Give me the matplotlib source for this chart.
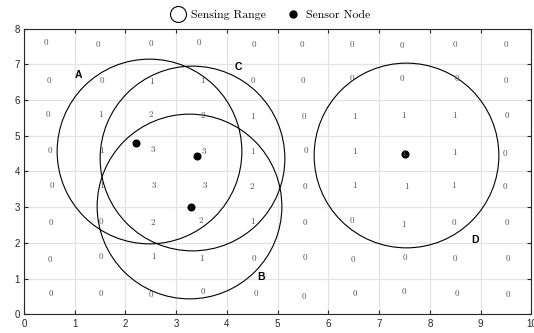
import matplotlib
matplotlib.use("Agg")
import matplotlib.pyplot as plt
from matplotlib.lines import Line2D

# sensing ranges (circle centres) and labels
circle_x = [2.46, 3.25, 3.32, 7.52]
circle_y = [4.56, 3.04, 4.37, 4.47]
circle_names = ["A", "B", "C", "D"]
name_x = [1.07, 4.67, 4.23, 8.88]
name_y = [6.71, 1.04, 6.92, 2.09]

# sensor nodes
node_x = [2.2, 3.4, 3.3, 7.5]
node_y = [4.8, 4.43, 3.0, 4.5]

# coverage count per cell, rows from top (y=7.5) to bottom (y=0.5)
counts = [
    [0, 0, 0, 0, 0, 0, 0, 0, 0, 0],
    [0, 0, 1, 1, 0, 0, 0, 0, 0, 0],
    [0, 1, 2, 2, 1, 0, 1, 1, 1, 0],
    [0, 1, 3, 3, 1, 0, 1, 1, 1, 0],
    [0, 1, 3, 3, 2, 0, 1, 1, 1, 0],
    [0, 0, 2, 2, 1, 0, 0, 1, 0, 0],
    [0, 0, 1, 1, 0, 0, 0, 0, 0, 0],
    [0, 0, 0, 0, 0, 0, 0, 0, 0, 0],
]
# label positions (slightly jittered around cell centres)
count_x = [
    [0.43, 1.45, 2.50, 3.45, 4.53, 5.48, 6.47, 7.45, 8.50, 9.49],
    [0.49, 1.53, 2.51, 3.52, 4.51, 5.49, 6.46, 7.45, 8.53, 9.50],
    [0.47, 1.50, 2.50, 3.52, 4.50, 5.51, 6.51, 7.48, 8.48, 9.51],
    [0.51, 1.53, 2.53, 3.54, 4.50, 5.56, 6.51, 7.49, 8.48, 9.47],
    [0.54, 1.52, 2.55, 3.56, 4.49, 5.53, 6.51, 7.53, 8.46, 9.48],
    [0.53, 1.51, 2.53, 3.48, 4.51, 5.53, 6.47, 7.49, 8.48, 9.52],
    [0.51, 1.51, 2.56, 3.50, 4.53, 5.53, 6.49, 7.50, 8.50, 9.54],
    [0.53, 1.52, 2.51, 3.53, 4.57, 5.51, 6.53, 7.49, 8.54, 9.53],
]
count_y = [
    [7.59, 7.56, 7.57, 7.60, 7.54, 7.56, 7.56, 7.52, 7.56, 7.56],
    [6.55, 6.55, 6.50, 6.53, 6.55, 6.54, 6.59, 6.60, 6.59, 6.54],
    [5.58, 5.58, 5.60, 5.56, 5.53, 5.53, 5.53, 5.56, 5.56, 5.55],
    [4.57, 4.57, 4.60, 4.55, 4.55, 4.58, 4.55, 4.50, 4.51, 4.50],
    [3.60, 3.60, 3.60, 3.60, 3.57, 3.57, 3.59, 3.57, 3.61, 3.57],
    [2.57, 2.60, 2.55, 2.62, 2.59, 2.55, 2.62, 2.51, 2.56, 2.56],
    [1.54, 1.60, 1.62, 1.56, 1.56, 1.59, 1.54, 1.59, 1.56, 1.56],
    [0.58, 0.58, 0.56, 0.62, 0.58, 0.49, 0.57, 0.62, 0.58, 0.55],
]

serif = ["cmr10", "DejaVu Serif"]
sans = ["Liberation Sans", "DejaVu Sans"]

fig = plt.figure(figsize=(5.34, 3.33), dpi=100)
ax = fig.add_axes([0.045, 0.056, 0.95, 0.858])

# grid
ax.set_xlim(0, 10)
ax.set_ylim(0, 8)
ax.set_xticks(range(0, 11))
ax.set_yticks(range(0, 9))
ax.grid(True, color="#e3e3e3", linewidth=0.9)
ax.set_axisbelow(True)

# count labels
for row_v, row_x, row_y in zip(counts, count_x, count_y):
    for v, x, y in zip(row_v, row_x, row_y):
        ax.text(x, y, str(v), ha="center", va="center", fontsize=6.5,
                color="#555555", family=serif)

# sensing ranges drawn as large open markers
ax.plot(circle_x, circle_y, "o", markersize=133, markerfacecolor="none",
        markeredgecolor="black", markeredgewidth=0.8, linestyle="none")
ax.plot(node_x, node_y, "o", markersize=4.8, color="black", linestyle="none")

for n, x, y in zip(circle_names, name_x, name_y):
    ax.text(x, y, n, ha="center", va="center", fontsize=7.5,
            fontweight="bold", family=sans)

ax.tick_params(direction="in", top=True, right=True, labelsize=7,
               length=3, width=0.8, colors="#262626", pad=3)
for lab in ax.get_xticklabels() + ax.get_yticklabels():
    lab.set_family(sans)
for s in ax.spines.values():
    s.set_color("#262626")
    s.set_linewidth(0.8)

handles = [
    Line2D([], [], marker="o", markersize=11.5, markerfacecolor="none",
           markeredgecolor="black", markeredgewidth=0.8, linestyle="none"),
    Line2D([], [], marker="o", markersize=5, color="black", linestyle="none"),
]
fig.legend(handles, ["Sensing Range", "Sensor Node"], loc="center",
           bbox_to_anchor=(0.505, 0.955), ncol=2, frameon=False,
           prop={"family": serif, "size": 8.5}, handletextpad=0.4,
           columnspacing=1.6, handlelength=1.4)

fig.savefig("out.png", dpi=100)
